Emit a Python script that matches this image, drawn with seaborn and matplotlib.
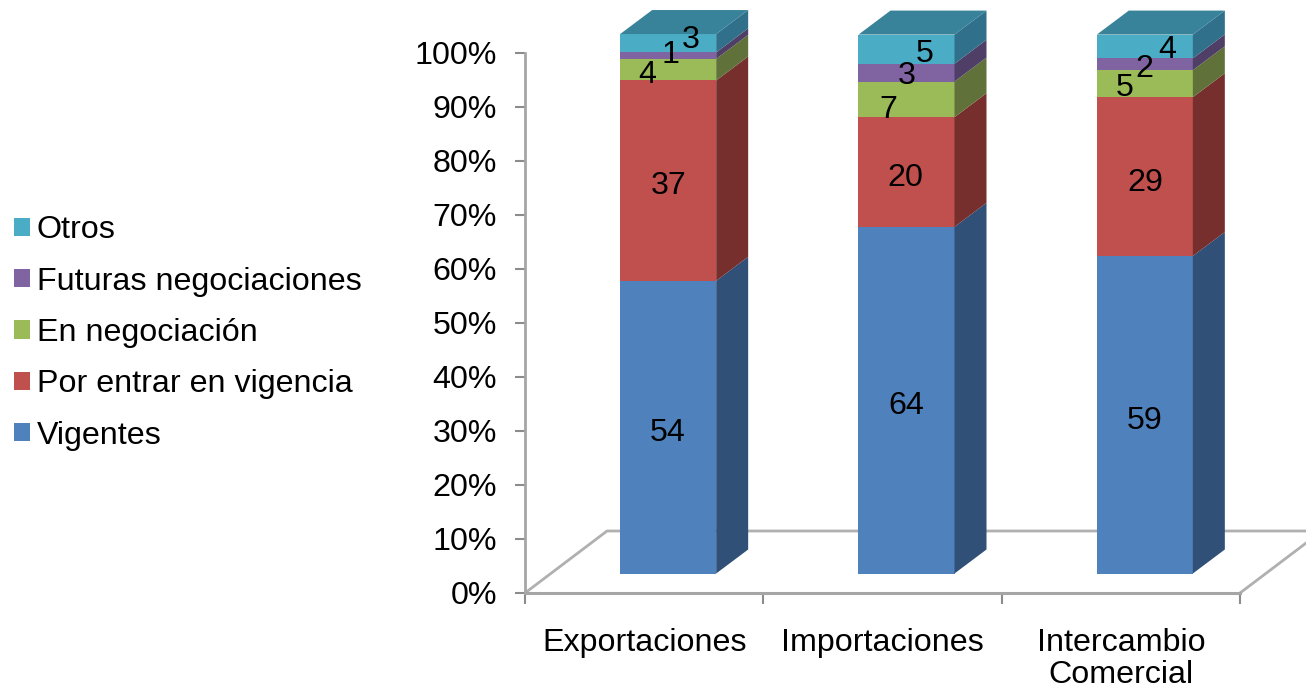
import numpy as np
import pandas as pd
import seaborn as sns
from matplotlib import pyplot as plt
from matplotlib.patches import Polygon
from matplotlib.transforms import Affine2D

sns.set_theme(style="white")
plt.rcParams['font.family'] = ['Liberation Sans', 'DejaVu Sans']
plt.rcParams['text.color'] = 'black'
plt.rcParams['xtick.labelcolor'] = 'black'
plt.rcParams['ytick.labelcolor'] = 'black'

categorias = ["Exportaciones", "Importaciones", "Intercambio\nComercial"]
vigentes = [54.2, 64.2, 58.8]
por_entrar = [37.1, 20.3, 29.4]
en_negociacion = [4.0, 6.6, 5.0]
futuras = [1.2, 3.3, 2.2]
otros = [3.4, 5.4, 4.4]

nombres = ["Vigentes", "Por entrar en vigencia", "En negociación",
           "Futuras negociaciones", "Otros"]
series = [vigentes, por_entrar, en_negociacion, futuras, otros]
colores = ["#4F81BD", "#C0504D", "#9BBB59", "#8064A2", "#4BACC6"]
laterales = ["#305078", "#772F2D", "#60723A", "#4F3E66", "#30708A"]
techo = "#38839A"

# desplazamiento en pixeles de las etiquetas (serie, categoria)
nudge = {
    (0, 0): (0, -6), (0, 1): (0, -6), (0, 2): (0, -6),
    (1, 0): (0, -5), (1, 1): (-1, -6), (1, 2): (0, -6),
    (2, 0): (-21, -5), (3, 0): (2, 1), (4, 0): (23, 3),
    (2, 1): (-18, -11), (3, 1): (0, -3), (4, 1): (18, -5),
    (2, 2): (-20, -4), (3, 2): (0, -5), (4, 2): (22, -4),
}

W, H = 1306, 689
FS = 23.2
fig = plt.figure(figsize=(W / 100, H / 100), dpi=100)
ax = fig.add_axes([525 / W, (H - 593) / H, 715 / W, 540 / H])

# falso 3D: frente corrido 24,19.5 px y fondo 32,24 px mas
frente = ax.transData + Affine2D().translate(24, 19.5)
prof = (32, 24)
ancho = 96 / 238.33

base = np.zeros(3)
for nombre, vals, color in zip(nombres, series, colores):
    sns.barplot(x=categorias, y=vals, bottom=base, color=color, saturation=1,
                width=ancho, errorbar=None, label=nombre, ax=ax, legend=True,
                linewidth=0, zorder=3)
    base = base + np.array(vals)

ax.set_xlim(-0.5, 2.5)
ax.set_ylim(0, 100)
ax.set_yticks(np.arange(0, 101, 10))
ax.set_yticklabels([f"{v}%" for v in range(0, 101, 10)])
ax.set_xticks([-0.5, 0.5, 1.5, 2.5], minor=False)
ax.set_xticklabels([])
ax.set_xticks([0, 1, 2], minor=True)
ax.set_xticklabels(categorias, minor=True)
ax.tick_params(axis='x', which='minor', bottom=False, pad=21, labelsize=FS)
ax.tick_params(axis='x', which='major', bottom=True, length=8, width=1.5, color="#8c8c8c")
ax.tick_params(axis='y', left=True, length=7, width=1.5, color="#8c8c8c", pad=13, labelsize=FS)
for lab in ax.get_xticklabels(minor=True):
    lab.set_linespacing(1.12)
sns.despine(ax=ax)
ax.spines['left'].set(color="#a6a6a6", linewidth=2)
ax.spines['bottom'].set(color="#a6a6a6", linewidth=2.2)
ax.set_xlabel("")
ax.set_ylabel("")

# suelo
x0, y0 = ax.transData.transform((-0.5, 0))
x1, _ = ax.transData.transform((2.5, 0))
suelo_x = [x0, x0 + 82, x1 + 82, x1]
suelo_y = [y0, y0 + 62, y0 + 62, y0]
ax.plot(suelo_x, suelo_y, color="#b0b0b0", lw=2, transform=None, zorder=1,
        clip_on=False, solid_joinstyle='miter')

for bar in ax.patches:
    bar.set_transform(frente)
    bar.set_clip_on(False)

acum = np.zeros(3)
for s, (vals, lat) in enumerate(zip(series, laterales)):
    for i, v in enumerate(vals):
        der = i + ancho / 2
        (xa, ya), (xb, yb) = frente.transform([(der, acum[i]), (der, acum[i] + v)])
        ax.add_patch(Polygon([(xa, ya), (xb, yb), (xb + prof[0], yb + prof[1]),
                              (xa + prof[0], ya + prof[1])], closed=True,
                             transform=None, fc=lat, lw=0, zorder=3, clip_on=False))
        xm, ym = frente.transform((i, acum[i] + v / 2))
        dx, dy = nudge[(s, i)]
        ax.text(xm + dx, ym + dy, str(round(v)), transform=None, ha='center',
                va='center', fontsize=FS, color='black', zorder=6, clip_on=False)
    acum = acum + np.array(vals)

for i in range(3):
    (xa, ya), (xb, _) = frente.transform([(i - ancho / 2, acum[i]), (i + ancho / 2, acum[i])])
    ax.add_patch(Polygon([(xa, ya), (xb, ya), (xb + prof[0], ya + prof[1]),
                          (xa + prof[0], ya + prof[1])], closed=True,
                         transform=None, fc=techo, lw=0, zorder=3, clip_on=False))

handles, labels = ax.get_legend_handles_labels()
ax.legend(handles[::-1], labels[::-1], loc='center left',
          bbox_to_anchor=(4 / W, (H - 333) / H), bbox_transform=fig.transFigure,
          frameon=False, fontsize=FS, handlelength=0.5, handleheight=0.5,
          handletextpad=0.22, labelspacing=0.66, borderpad=0.3, borderaxespad=0,
          labelcolor='black')

fig.savefig("out.png", dpi=100)
